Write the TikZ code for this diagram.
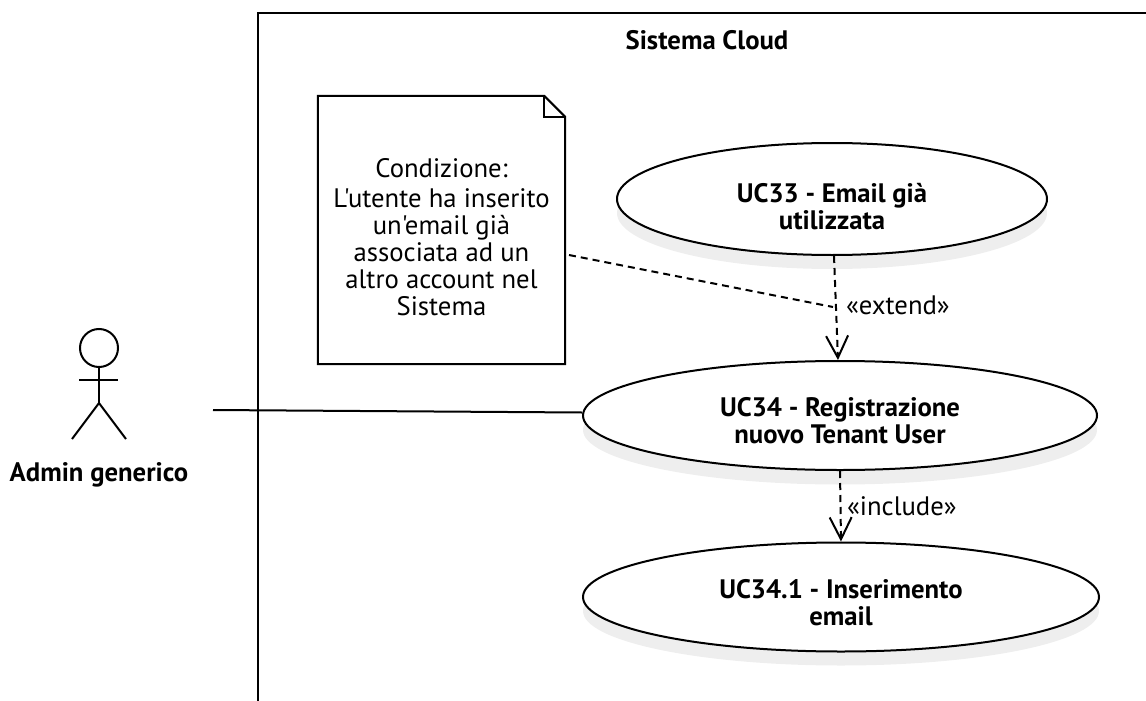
\documentclass[tikz,border=0pt]{standalone}
\usepackage{fontspec}
\setmainfont{PT Sans}[Ligatures=TeXOff]
\usetikzlibrary{shapes.geometric,arrows.meta,calc}
\definecolor{shadowgray}{HTML}{EEEEEE}
\newcommand{\dropline}[1]{\rule{0pt}{#1}}
\tikzset{
  ln/.style={line width=2pt,black},
  uc/.style={ellipse,draw,ln,fill=white,inner sep=0pt,align=center,font=\fontsize{26.7}{27}\selectfont\bfseries},
  ucshadow/.style={ellipse,fill=shadowgray,inner sep=0pt},
  lbl/.style={font=\fontsize{26.7}{27}\selectfont,inner sep=0pt,align=center},
  dep/.style={ln,dash pattern=on 7pt off 5pt,-{Straight Barb[length=22pt,width=22pt,line width=2pt]}},
}
\begin{document}
\begin{tikzpicture}[x=1pt,y=-1pt]
\useasboundingbox (0,0) rectangle (1146,701);
\coordinate (ftop) at (1146,13);
\coordinate (fcorner) at (258,13);
\coordinate (fbottom) at (258,701);
\draw[ln] (ftop) -- (fcorner) -- (fbottom);
\node[lbl,font=\fontsize{26.7}{27}\selectfont\bfseries] (sys) at (707,40) {Sistema Cloud};
% shadows
\node[ucshadow,minimum width=430pt,minimum height=112pt] (s33) at (832,213) {};
\node[ucshadow,minimum width=514pt,minimum height=109pt] (s34) at (840,430) {};
\node[ucshadow,minimum width=516pt,minimum height=109pt] (s341) at (841,611) {};
% use cases
\node[uc,minimum width=430pt,minimum height=112pt] (uc33) at (832,199) {\dropline{35pt}UC33 - Email già\\utilizzata};
\node[uc,minimum width=514pt,minimum height=109pt] (uc34) at (840,415.5) {\dropline{29pt}UC34 - Registrazione\\nuovo Tenant User};
\node[uc,minimum width=516pt,minimum height=109pt] (uc341) at (841,597) {\dropline{31pt}UC34.1 - Inserimento\\email};
% note
\node[minimum width=247pt,minimum height=268pt,inner sep=0pt] (note) at (441.5,230) {};
\node[lbl] (notetext) at (441.5,237) {Condizione:\\[3pt]L'utente ha inserito\\un'email già\\associata ad un\\altro account nel\\Sistema};
\coordinate (fa) at ($(note.north east)+(-21,0)$);
\coordinate (fb) at ($(note.north east)+(0,21)$);
\coordinate (fc) at ($(note.north east)+(-21,21)$);
\draw[ln,line join=miter] (note.north west) -- (fa) -- (fb) -- (note.south east) -- (note.south west) -- cycle;
\draw[ln] (fa) -- (fc) -- (fb);
% actor
\node[circle,draw,ln,minimum size=38pt,inner sep=0pt] (head) at (99,348) {};
\coordinate (hip) at (99,403);
\coordinate (armL) at (79,380);
\coordinate (armR) at (118,380);
\coordinate (legL) at (72,439);
\coordinate (legR) at (126,439);
\draw[ln] (head.south) -- (hip);
\draw[ln] (armL) -- (armR);
\draw[ln] (legL) -- (hip) -- (legR);
\node[lbl,font=\fontsize{26.7}{27}\selectfont\bfseries] (actor) at (99,475) {Admin generico};
% connectors
\coordinate (actorend) at (213,410);
\draw[ln] (actorend) -- ($(uc34.west)+(0,-3)$);
\coordinate (noteend) at (569,255);
\coordinate (extpt) at (833,307);
\draw[ln,dash pattern=on 7pt off 5pt] (noteend) -- (extpt);
\draw[dep] ($(uc33.south)+(2,0)$) -- ($(uc34.north)+(-2,0)$);
\draw[dep] (uc34.south) -- (uc341.north);
\node[lbl,anchor=west] (ext) at (846,305.5) {«extend»};
\node[lbl,anchor=west] (inc) at (847,506) {«include»};
\end{tikzpicture}
\end{document}
